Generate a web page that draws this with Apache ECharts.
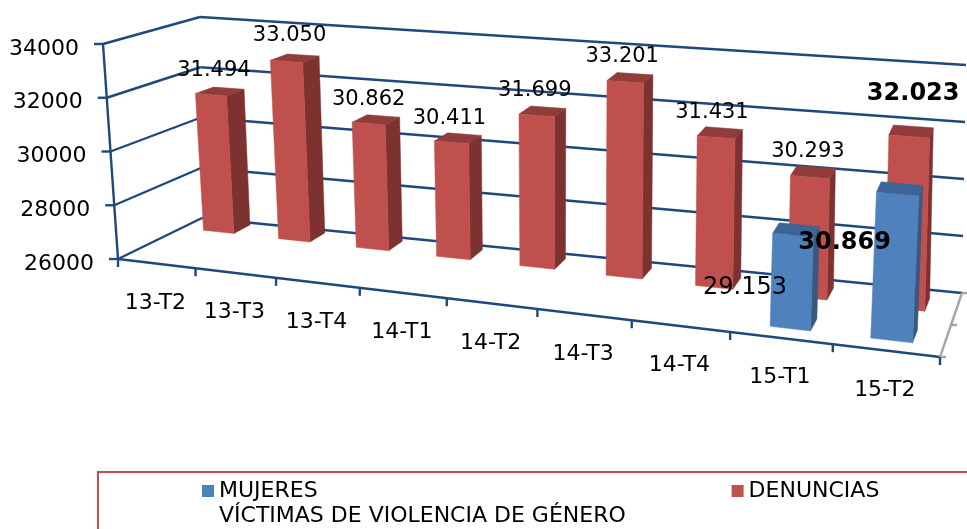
<!DOCTYPE html>
<html><head><meta charset="utf-8">
<style>html,body{margin:0;padding:0;background:#fff}#c{width:967px;height:529px}</style>
<script src="https://cdn.jsdelivr.net/npm/echarts@6/dist/echarts.min.js"></script>
</head><body><div id="c"></div>
<script>
var categories = ['13-T2','13-T3','13-T4','14-T1','14-T2','14-T3','14-T4','15-T1','15-T2'];
var denuncias = [31494,33050,30862,30411,31699,33201,31431,30293,32023];
var mujeres = [null,null,null,null,null,null,null,29153,30869];
var valueTicks = [26000,28000,30000,32000,34000];

// hand placement of the data labels, relative to the top of each bar
var denunciasLabelOffset = [[3,-24],[3,-26],[0,-24],[-2,-24],[-2,-25],[-3,-25],[-4,-25],[-2,-26],[4,-43]];
var mujeresLabelOffset = [null,null,null,null,null,null,null,[-48,52],[-53,49]];
var boldLabel = {'32023':1,'30869':1};

// the 3D box: the eight projected corners of the plot
var FLB=[118,259],FRB=[940,357],BRB=[962,293],BLB=[202,218];
var FLT=[103,44],FRT=[953,112],BRT=[966,65],BLT=[200,17];
var PERSP_BAR=1.165,PERSP_AXIS=1.2;
function lerp(a,b,t){return [a[0]+(b[0]-a[0])*t,a[1]+(b[1]-a[1])*t];}
function S(u,r){return u/(u+r*(1-u));}
function P(u,d,v,r){
  var s=S(u,r||PERSP_BAR);
  var bot=lerp(lerp(FLB,FRB,s),lerp(BLB,BRB,s),d);
  var top=lerp(lerp(FLT,FRT,s),lerp(BLT,BRT,s),d);
  return lerp(bot,top,v);
}
// bars in the far row: slightly shorter and more leaning near the left wall
function PB(u,d,v,far){
  var s=S(u,PERSP_BAR);
  if(!far)return P(u,d,v);
  var q=P(u,d,v*(0.97+0.02*s));
  q[0]+=-7.5*Math.max(0,1-s/0.5)*v;
  return q;
}
function unit(api,params,cat,val){
  var c=api.coord([cat,val]),g=params.coordSys;
  return {u:(c[0]-g.x)/g.width,v:1-(c[1]-g.y)/g.height,band:api.size([1,0])[0]/g.width};
}
var NAVY='#1f497d',GREY='#a6a6a6',FONT='"DejaVu Sans"';
function ln(a,b,color){return {type:'line',shape:{x1:a[0],y1:a[1],x2:b[0],y2:b[1]},style:{stroke:color||NAVY,lineWidth:2.4}};}
function txt(t,x,y,size,align,weight){return {type:'text',style:{text:t,x:x,y:y,fill:'#000',fontFamily:FONT,fontSize:size,fontWeight:weight||'normal',align:align||'center',verticalAlign:'middle'}};}
function poly(pts,color){return {type:'polygon',shape:{points:pts},style:{fill:color,stroke:color,lineWidth:0.5}};}
function fmt(v){return String(v).replace(/(\d)(\d{3})$/,'$1.$2');}

function renderGrid(params,api){
  var p=unit(api,params,0,api.value(0)),v=p.v;
  var a=P(0,0,v),b=P(0,1,v),c=P(1,1,v);
  var ch=[ln([a[0]-9,a[1]],a),ln(a,b),ln(b,c),txt(String(api.value(0)),a[0]-24,a[1]+5,22,'right')];
  if(v===0){ch.push(ln(P(0,0,0),P(1,0,0)));ch.push(ln(P(0,0,0),P(0,0,1)));
    ch.push(ln(P(1,0,0),P(1,1,0),GREY));
    [0,0.5,1].forEach(function(d){var q=P(1,d,0);ch.push(ln(q,[q[0]+6,q[1]],GREY));});
    ch.push(ln(P(0,0,0),[P(0,0,0)[0],P(0,0,0)[1]+8]));
    ch.push(ln(P(1,0,0),[P(1,0,0)[0],P(1,0,0)[1]+8]));}
  return {type:'group',children:ch};
}
function renderCat(params,api){
  var i=api.value(0),p=unit(api,params,i,26000);
  var m=P(p.u,0,0,PERSP_AXIS),r=P(p.u+p.band/2,0,0,PERSP_AXIS);
  var ch=[txt(categories[i],m[0]-1,m[1]+39.5,22)];
  if(i<categories.length-1)ch.push(ln(r,[r[0],r[1]+8]));
  return {type:'group',children:ch};
}
function barRenderer(colors,d0,d1,far){
  return function(params,api){
    var i=api.value(0),val=api.value(1);
    if(val==null||isNaN(val))return null;
    var p=unit(api,params,i,val),hw=0.0225;
    var d=d0+(d1-d0)*S(p.u,PERSP_BAR),e=d+0.2,l=p.u-hw,r=p.u+hw;
    var A=PB(l,d,0,far),B=PB(r,d,0,far),C=PB(r,d,p.v,far),D=PB(l,d,p.v,far);
    var E=PB(r,e,0,far),F=PB(r,e,p.v,far),G=PB(l,e,p.v,far);
    return {type:'group',children:[poly([B,E,F,C],colors[1]),poly([D,C,F,G],colors[2]),poly([A,B,C,D],colors[0])]};
  };
}
function labelRenderer(d0,d1,offsets,far){
  return function(params,api){
    var i=api.value(0),val=api.value(1);
    if(val==null||isNaN(val))return null;
    var p=unit(api,params,i,val),d=d0+(d1-d0)*S(p.u,PERSP_BAR),t=PB(p.u,d,p.v,far),o=offsets[i];
    var bold=boldLabel[val],size=bold?24:(far?21:24);
    return txt(fmt(val),t[0]+o[0],t[1]+o[1],size,'center',bold?'bold':'normal');
  };
}
function pairs(a){return a.map(function(v,i){return [i,v];});}
var RED=['#c0504d','#7d3230','#8f3c3a'],BLUE=['#4f81bd','#39587f','#3d6496'];
var DR=[0.76,0.66],DB=[0.165,0.165];
var chart=echarts.init(document.getElementById('c'),null,{renderer:'canvas'});
chart.setOption({
  animation:false,backgroundColor:'#fff',
  grid:{left:0,top:0,width:900,height:400},
  xAxis:{type:'category',data:categories,show:false},
  yAxis:{type:'value',min:26000,max:34000,interval:2000,show:false},
  legend:{left:197,top:475,itemWidth:12,itemHeight:12,itemGap:414,icon:'rect',
    data:['MUJERES','DENUNCIAS'],textStyle:{fontFamily:FONT,fontSize:22,color:'#000'},selectedMode:false},
  graphic:[
    {type:'rect',silent:true,shape:{x:98,y:472,width:950,height:100},style:{fill:'none',stroke:'#c0504d',lineWidth:2}},
    {type:'text',silent:true,style:{text:'VÍCTIMAS DE VIOLENCIA DE GÉNERO',x:219,y:505,fill:'#000',fontFamily:FONT,fontSize:22}}
  ],
  series:[
    {type:'custom',name:'grid',silent:true,clip:false,data:valueTicks.map(function(v){return [v];}),encode:{y:0},renderItem:renderGrid,z:1},
    {type:'custom',name:'cats',silent:true,clip:false,data:categories.map(function(c,i){return [i];}),encode:{x:0},renderItem:renderCat,z:1},
    {type:'custom',name:'DENUNCIAS',silent:true,clip:false,itemStyle:{color:RED[0]},data:pairs(denuncias),encode:{x:0,y:1},renderItem:barRenderer(RED,DR[0],DR[1],true),z:2},
    {type:'custom',name:'MUJERES',silent:true,clip:false,itemStyle:{color:BLUE[0]},data:pairs(mujeres),encode:{x:0,y:1},renderItem:barRenderer(BLUE,DB[0],DB[1],false),z:3},
    {type:'custom',name:'lblD',silent:true,clip:false,data:pairs(denuncias),encode:{x:0,y:1},renderItem:labelRenderer(DR[0],DR[1],denunciasLabelOffset,true),z:4},
    {type:'custom',name:'lblM',silent:true,clip:false,data:pairs(mujeres),encode:{x:0,y:1},renderItem:labelRenderer(DB[0],DB[1],mujeresLabelOffset,false),z:4}
  ]
});
</script></body></html>
